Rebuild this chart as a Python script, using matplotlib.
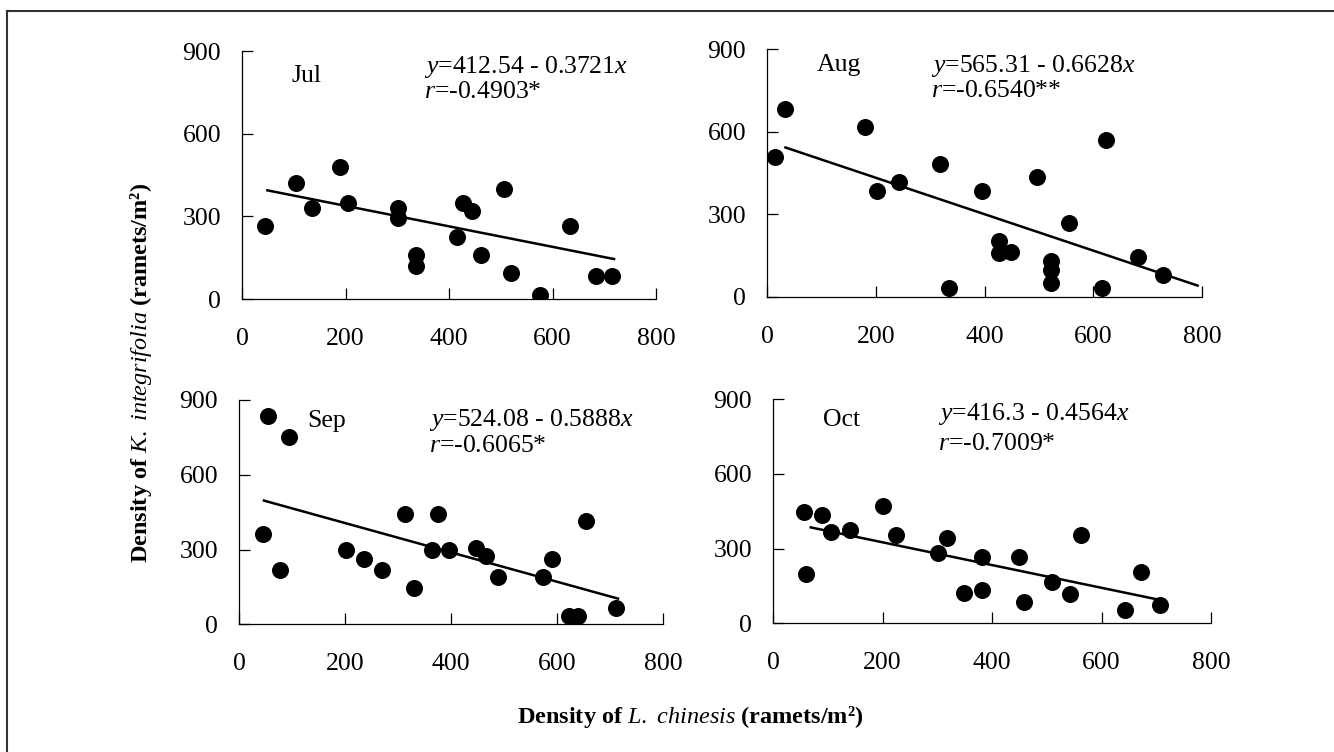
import matplotlib
matplotlib.use("Agg")
from matplotlib import pyplot as plt
from matplotlib.lines import Line2D
import numpy as np

plt.rcParams['font.family'] = ['Liberation Serif', 'DejaVu Serif']
plt.rcParams['mathtext.fontset'] = 'custom'
plt.rcParams['mathtext.rm'] = 'Liberation Serif'
plt.rcParams['mathtext.it'] = 'Liberation Serif:italic'
plt.rcParams['mathtext.bf'] = 'Liberation Serif:bold'

# density of L. chinesis (x) and K. integrifolia (y), ramets/m2
jul_x = [45, 105, 135, 190, 205, 302, 302, 337, 337, 416, 428, 445, 462, 507, 519, 575, 633, 685, 715]
jul_y = [265, 422, 330, 480, 350, 330, 295, 160, 120, 225, 350, 318, 158, 401, 93, 14, 265, 85, 85]

aug_x = [15, 34, 180, 203, 243, 318, 334, 395, 426, 426, 449, 496, 523, 523, 523, 555, 617, 623, 683, 729]
aug_y = [508, 684, 617, 384, 418, 484, 33, 384, 204, 160, 162, 436, 130, 97, 49, 268, 33, 569, 143, 80]

sep_x = [45, 55, 77, 94, 201, 235, 269, 313, 330, 364, 376, 396, 448, 466, 489, 574, 591, 623, 639, 655, 712]
sep_y = [361, 836, 217, 753, 300, 262, 217, 442, 147, 300, 442, 300, 308, 276, 190, 190, 262, 33, 33, 416, 67]

oct_x = [57, 61, 89, 106, 140, 201, 224, 301, 318, 349, 382, 382, 450, 459, 510, 543, 563, 643, 673, 706]
oct_y = [445, 197, 435, 368, 375, 471, 355, 284, 341, 123, 268, 134, 268, 87, 167, 116, 355, 53, 205, 73]

months = ['Jul', 'Aug', 'Sep', 'Oct']
intercepts = [412.54, 565.31, 524.08, 416.3]
slopes = [0.3721, 0.6628, 0.5888, 0.4564]
r_values = ['-0.4903', '-0.6540', '-0.6065', '-0.7009']
signif = ['*', '**', '*', '*']
# x range covered by the fitted line
fit_ranges = [(49, 719), (34, 792), (47, 715), (69, 708)]

xs = [jul_x, aug_x, sep_x, oct_x]
ys = [jul_y, aug_y, sep_y, oct_y]

x_ticks = [0, 200, 400, 600, 800]
y_ticks = [0, 300, 600, 900]

# axes boxes in pixels: left, right, bottom, top  (figure is 1334 x 752)
W, H = 1334, 752
boxes = [(242, 656, 299, 51), (767, 1202, 296.7, 49.3),
         (239, 663, 624.3, 400), (773, 1211, 623.3, 399)]
# text anchors in data units: month label, equation block
month_pos = [(96, 810), (92, 842), (128, 817), (92, 816)]
eq_pos = [(352, 842, 752), (301, 839, 749), (358, 820, 714), (302, 840, 720)]

fig = plt.figure(figsize=(W / 100, H / 100), dpi=100)

for i in range(4):
    l, r, b, t = boxes[i]
    ax = fig.add_axes([l / W, 1 - b / H, (r - l) / W, (b - t) / H])
    ax.scatter(xs[i], ys[i], s=150, color='black', zorder=3, linewidths=0)
    x0, x1 = fit_ranges[i]
    line_x = np.array([x0, x1])
    ax.plot(line_x, intercepts[i] - slopes[i] * line_x, color='black', lw=1.8, zorder=2)

    ax.set_xlim(0, 800)
    ax.set_ylim(0, 900)
    ax.set_xticks(x_ticks)
    ax.set_yticks(y_ticks)
    ax.spines['top'].set_visible(False)
    ax.spines['right'].set_visible(False)
    for s in ['left', 'bottom']:
        ax.spines[s].set_linewidth(0.9)
    ax.tick_params(axis='both', direction='in', length=8, width=0.9, labelsize=18.5)
    ax.tick_params(axis='x', pad=21)
    ax.tick_params(axis='y', pad=15)
    ax.patch.set_alpha(0)

    mx, my = month_pos[i]
    ax.text(mx, my, months[i], fontsize=18.5, va='center', ha='left')
    ex, ey1, ey2 = eq_pos[i]
    ax.text(ex, ey1, r'$y$=%s - %s$x$' % (intercepts[i], slopes[i]), fontsize=18.5, va='center', ha='left')
    ax.text(ex, ey2, r'$r$=%s%s' % (r_values[i], signif[i]), fontsize=18.5, va='center', ha='left')

fig.text(141 / W, 1 - 373 / H, r'Density of $\mathit{K.}$ $\mathit{integrifolia}$ (ramets/m²)',
         rotation=90, ha='center', va='center', fontsize=17.5, fontweight='bold')
fig.text(690 / W, 1 - 717 / H, r'Density of $\mathit{L.}$ $\mathit{chinesis}$ (ramets/m²)',
         ha='center', va='center', fontsize=17.5, fontweight='bold')

# outer frame
fig.add_artist(Line2D([7 / W, 1], [1 - 10.7 / H, 1 - 10.7 / H], transform=fig.transFigure, color='#333333', lw=1.5))
fig.add_artist(Line2D([7 / W, 7 / W], [0, 1 - 10.7 / H], transform=fig.transFigure, color='#333333', lw=1.5))

fig.savefig('out.png', dpi=100)
